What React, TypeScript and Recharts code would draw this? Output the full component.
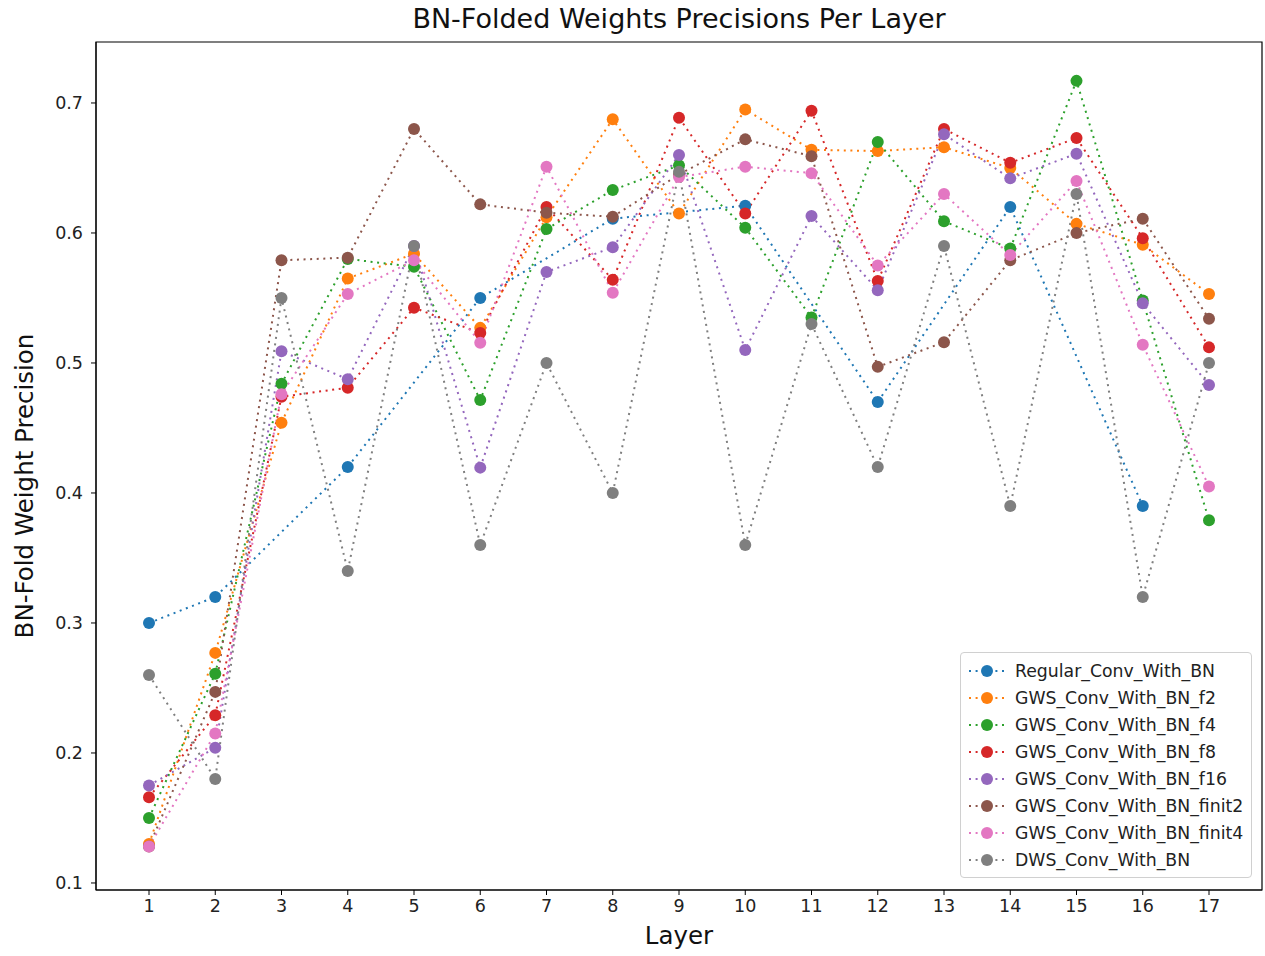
import {
  LineChart,
  Line,
  XAxis,
  YAxis,
  ReferenceArea,
} from 'recharts'

// layer indices on the x axis
const layers = [1, 2, 3, 4, 5, 6, 7, 8, 9, 10, 11, 12, 13, 14, 15, 16, 17]

// precision per layer for each model (null = layer not measured)
const regularConv = [0.3, 0.32, null, 0.42, null, 0.55, null, 0.611, null, 0.621, null, 0.47, null, 0.62, null, 0.39, null]
const gwsF2 = [0.13, 0.277, 0.454, 0.565, 0.584, 0.527, 0.612, 0.6875, 0.615, 0.695, 0.664, 0.663, 0.666, 0.65, 0.607, 0.591, 0.553]
const gwsF4 = [0.15, 0.261, 0.484, 0.58, 0.574, 0.4715, 0.603, 0.633, 0.652, 0.604, 0.535, 0.67, 0.609, 0.588, 0.717, 0.548, 0.379]
const gwsF8 = [0.166, 0.229, 0.474, 0.481, 0.5425, 0.523, 0.62, 0.564, 0.6887, 0.615, 0.694, 0.563, 0.68, 0.654, 0.673, 0.596, 0.512]
const gwsF16 = [0.175, 0.204, 0.509, 0.4875, 0.59, 0.4195, 0.57, 0.589, 0.66, 0.51, 0.613, 0.556, 0.676, 0.642, 0.661, 0.546, 0.483]
const gwsFinit2 = [0.128, 0.247, 0.579, 0.581, 0.68, 0.622, 0.6156, 0.6125, 0.645, 0.672, 0.659, 0.497, 0.516, 0.579, 0.6, 0.611, 0.534]
const gwsFinit4 = [0.128, 0.215, 0.476, 0.553, 0.579, 0.5156, 0.651, 0.554, 0.643, 0.651, 0.646, 0.575, 0.63, 0.583, 0.64, 0.514, 0.405]
const dwsConv = [0.26, 0.18, 0.55, 0.34, 0.59, 0.36, 0.5, 0.4, 0.647, 0.36, 0.53, 0.42, 0.59, 0.39, 0.63, 0.32, 0.5]

const yTicks = [0.1, 0.2, 0.3, 0.4, 0.5, 0.6, 0.7]

const series = [
  { key: 'Regular_Conv_With_BN', values: regularConv, color: '#1f77b4' },
  { key: 'GWS_Conv_With_BN_f2', values: gwsF2, color: '#ff7f0e' },
  { key: 'GWS_Conv_With_BN_f4', values: gwsF4, color: '#2ca02c' },
  { key: 'GWS_Conv_With_BN_f8', values: gwsF8, color: '#d62728' },
  { key: 'GWS_Conv_With_BN_f16', values: gwsF16, color: '#9467bd' },
  { key: 'GWS_Conv_With_BN_finit2', values: gwsFinit2, color: '#8c564b' },
  { key: 'GWS_Conv_With_BN_finit4', values: gwsFinit4, color: '#e377c2' },
  { key: 'DWS_Conv_With_BN', values: dwsConv, color: '#7f7f7f' },
]

const data = layers.map((layer, i) => {
  const row: { [k: string]: number | null } = { layer }
  series.forEach((s) => {
    row[s.key] = s.values[i]
  })
  return row
})

const FONT = '"DejaVu Sans", sans-serif'
const X_DOMAIN: [number, number] = [0.2, 17.8]
const Y_DOMAIN: [number, number] = [0.0946, 0.7469]

// matplotlib-style legend box in the lower right corner
function LegendBox() {
  return (
    <div
      style={{
        position: 'absolute',
        left: 960,
        top: 652,
        border: '1.5px solid #d0d0d0',
        borderRadius: 4,
        background: 'rgba(255,255,255,0.85)',
        padding: '4px 8px 4px 4px',
        fontFamily: FONT,
        fontSize: 17.3,
        color: '#222',
      }}
    >
      {series.map((s) => (
        <div
          key={s.key}
          style={{ display: 'flex', alignItems: 'center', height: 27 }}
        >
          <svg width={44} height={14} style={{ marginRight: 6 }}>
            <line
              x1={4}
              y1={7}
              x2={40}
              y2={7}
              stroke={s.color}
              strokeWidth={2}
              strokeDasharray="2 4.6"
            />
            <circle cx={22} cy={7} r={6} fill={s.color} />
          </svg>
          <span>{s.key}</span>
        </div>
      ))}
    </div>
  )
}

export default function App() {
  return (
    <div
      style={{
        position: 'absolute',
        left: 0,
        top: 0,
        width: 1265,
        height: 956,
        background: '#fff',
        fontFamily: FONT,
      }}
    >
      <div
        style={{
          position: 'absolute',
          left: 96,
          width: 1166,
          top: 3,
          textAlign: 'center',
          fontSize: 27,
          color: '#111',
        }}
      >
        BN-Folded Weights Precisions Per Layer
      </div>
      <div
        style={{
          position: 'absolute',
          left: 96,
          width: 1166,
          top: 921,
          textAlign: 'center',
          fontSize: 24.5,
          color: '#111',
        }}
      >
        Layer
      </div>
      <div
        style={{
          position: 'absolute',
          left: 24,
          top: 486,
          transform: 'translate(-50%, -50%) rotate(-90deg)',
          whiteSpace: 'nowrap',
          fontSize: 24.5,
          color: '#111',
        }}
      >
        BN-Fold Weight Precision
      </div>
      <LineChart
        width={1265}
        height={956}
        data={data}
        margin={{ top: 42, right: 3, bottom: 0, left: 0 }}
        style={{ position: 'absolute', left: 0, top: 0 }}
      >
        <XAxis
          dataKey="layer"
          type="number"
          domain={X_DOMAIN}
          ticks={layers}
          allowDataOverflow
          height={66}
          stroke="#000"
          tickSize={5}
          tick={{ fill: '#222', fontSize: 17.5, fontFamily: FONT }}
          tickMargin={5}
        />
        <YAxis
          type="number"
          domain={Y_DOMAIN}
          ticks={yTicks}
          allowDataOverflow
          width={96}
          stroke="#000"
          tickSize={5}
          tickFormatter={(v: number) => v.toFixed(1)}
          tick={{ fill: '#222', fontSize: 17.5, fontFamily: FONT }}
          tickMargin={8}
        />
        {/* closes the frame on the top and right sides */}
        <ReferenceArea
          x1={X_DOMAIN[0]}
          x2={X_DOMAIN[1]}
          y1={Y_DOMAIN[0]}
          y2={Y_DOMAIN[1]}
          fill="none"
          stroke="#000"
          strokeWidth={1.2}
          ifOverflow="visible"
        />
        {series.map((s) => (
          <Line
            key={s.key}
            dataKey={s.key}
            stroke={s.color}
            strokeWidth={2}
            strokeDasharray="2 4.6"
            type="linear"
            connectNulls
            dot={{ r: 6, fill: s.color, stroke: s.color, strokeWidth: 0, strokeDasharray: '' }}
            activeDot={false}
            isAnimationActive={false}
          />
        ))}
      </LineChart>
      <LegendBox />
    </div>
  )
}
